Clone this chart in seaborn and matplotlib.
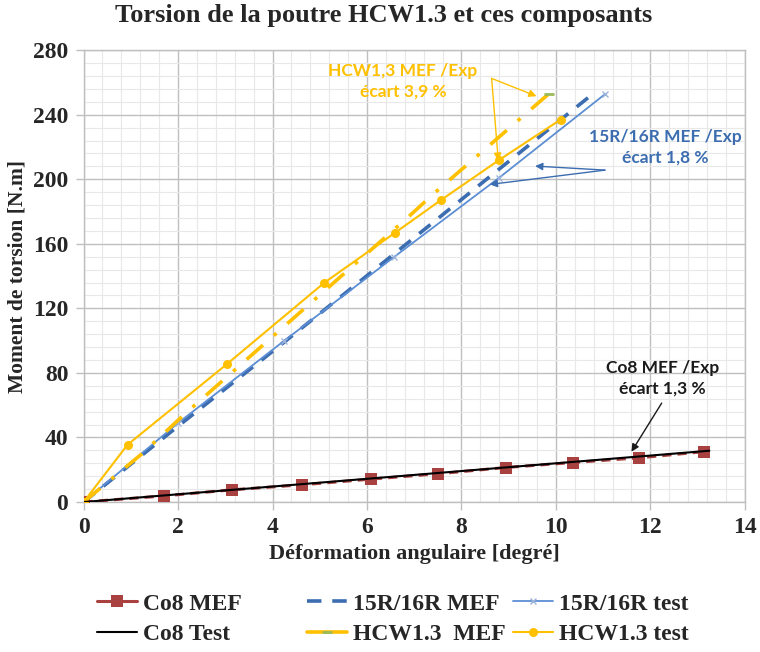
import numpy as np
import pandas as pd
import matplotlib
matplotlib.use("Agg")
import matplotlib.pyplot as plt
from matplotlib.ticker import MultipleLocator
from matplotlib.lines import Line2D
import seaborn as sns

# Co8 column: finite-element model vs. test
co8_mef_x = [0, 1.7, 3.15, 4.63, 6.08, 7.5, 8.94, 10.36, 11.76, 13.13]
co8_mef_y = [0, 3.8, 7.6, 10.7, 14.2, 17.5, 21.4, 24.5, 27.4, 31.2]
co8_test_x = [0, 13.25]
co8_test_y = [0, 31.8]

# 15R/16R components
r15_mef_x = [0, 2.0, 4.2, 6.5, 8.7, 10.7]
r15_mef_y = [0, 47, 98, 152, 204, 251]
r15_test_x = [0, 2.0, 4.25, 6.58, 8.8, 11.05]
r15_test_y = [0, 49, 100, 152, 201, 253]

# HCW1.3 beam
hcw_mef_x = [0, 1.24, 2.14, 6.85, 7.45, 9.85]
hcw_mef_y = [0, 30, 54.5, 176, 192, 253]
hcw_test_x = [0, 0.93, 3.04, 5.1, 6.6, 7.56, 8.8, 10.1]
hcw_test_y = [0, 35.5, 85.6, 136, 167, 187, 212, 237]

x_ticks = [0, 2, 4, 6, 8, 10, 12, 14]
y_ticks = [0, 40, 80, 120, 160, 200, 240, 280]

title = "Torsion de la poutre HCW1.3 et ces composants"
x_label = "Déformation angulaire [degré]"
y_label = "Moment de torsion [N.m]"

RED = "#A8413F"
BLUE_D = "#3C6DB0"
BLUE_L = "#5B8ED4"
GOLD = "#FFC000"
GREEN = "#9BBB59"

sns.set_theme(style="white")
plt.rcParams["font.family"] = ["Liberation Serif", "DejaVu Serif"]

fig = plt.figure(figsize=(7.6, 6.52), dpi=100)
ax = fig.add_axes([0.110, 0.230, 0.870, 0.693])

def frame(x, y):
    return pd.DataFrame({"x": x, "y": y})

# Co8
sns.lineplot(data=frame(co8_mef_x, co8_mef_y), x="x", y="y", ax=ax, sort=False,
             estimator=None, color=RED, lw=2.2, linestyle=(0, (3, 2)),
             marker="s", markersize=9, markeredgewidth=0, zorder=3)
sns.lineplot(data=frame(co8_test_x, co8_test_y), x="x", y="y", ax=ax, sort=False,
             estimator=None, color="black", lw=1.5, zorder=4)

# 15R/16R
sns.lineplot(data=frame(r15_mef_x, r15_mef_y), x="x", y="y", ax=ax, sort=False,
             estimator=None, color=BLUE_D, lw=2.6, linestyle=(0, (4, 3)), zorder=3)
sns.lineplot(data=frame(r15_test_x, r15_test_y), x="x", y="y", ax=ax, sort=False,
             estimator=None, color=BLUE_L, lw=1.3, marker="x", markersize=5,
             markeredgecolor="#9DB3DA", markeredgewidth=1, zorder=3)

# HCW1.3
sns.lineplot(data=frame(hcw_mef_x, hcw_mef_y), x="x", y="y", ax=ax, sort=False,
             estimator=None, color=GOLD, lw=2.6, linestyle=(0, (6, 4, 1, 4)),
             marker="_", markersize=7, markeredgecolor=GREEN, markeredgewidth=2,
             markevery=[len(hcw_mef_x) - 1], zorder=3)
sns.lineplot(data=frame(hcw_test_x, hcw_test_y), x="x", y="y", ax=ax, sort=False,
             estimator=None, color=GOLD, lw=1.5, marker="o", markersize=6.5,
             markeredgewidth=0, zorder=3)

ax.set_xlim(0, 14)
ax.set_ylim(0, 280)
ax.set_xticks(x_ticks)
ax.set_yticks(y_ticks)
ax.xaxis.set_minor_locator(MultipleLocator(0.4))
ax.yaxis.set_minor_locator(MultipleLocator(8))
ax.grid(which="major", color="#BFBFBF", lw=1.0, zorder=0)
ax.grid(which="minor", color="#E8E8E8", lw=0.8, zorder=0)
ax.set_axisbelow(True)
for s in ax.spines.values():
    s.set_color("#BFBFBF")
    s.set_linewidth(1.0)
ax.tick_params(which="major", direction="out", length=6, color="#BFBFBF",
               width=1, labelsize=17, pad=5, bottom=True, left=True)
ax.tick_params(which="minor", length=0)
for lab in ax.get_xticklabels() + ax.get_yticklabels():
    lab.set_fontweight("bold")

ax.set_xlabel(x_label, fontsize=16, fontweight="bold", labelpad=4)
ax.set_ylabel(y_label, fontsize=15.5, fontweight="bold", labelpad=4)
fig.suptitle(title, x=0.505, y=0.994, fontsize=19, fontweight="bold")

# annotations
note_font = dict(family=["Lato", "DejaVu Sans"], fontweight="bold", fontsize=12.5,
                 ha="center", va="center", linespacing=1.35)
ax.text(6.76, 260.5, "HCW1,3 MEF /Exp\nécart 3,9 %", color=GOLD, **note_font)
ax.text(12.31, 219.7, "15R/16R MEF /Exp\nécart 1,8 %", color=BLUE_D, **note_font)
ax.text(12.25, 76.8, "Co8 MEF /Exp\nécart 1,3 %", color="#1a1a1a", **note_font)

def arrow(start, end, color):
    ax.annotate("", xy=end, xytext=start,
                arrowprops=dict(arrowstyle="-|>", color=color, lw=1.0,
                                mutation_scale=11, shrinkA=0, shrinkB=0), zorder=5)

arrow((8.64, 262.5), (9.59, 251.5), GOLD)
arrow((8.64, 262.5), (8.78, 211.5), GOLD)
arrow((11.04, 205.7), (9.56, 208.2), BLUE_D)
arrow((11.04, 205.7), (8.6, 196.8), BLUE_D)
arrow((12.24, 61.3), (11.6, 31.2), "#1a1a1a")

# legend: three columns placed side by side below the axes
columns = [
    ([Line2D([], [], color=RED, lw=2.2, marker="s", markersize=9, markeredgewidth=0),
      Line2D([], [], color="black", lw=1.5)],
     ["Co8 MEF", "Co8 Test"], 97),
    ([Line2D([], [], color=BLUE_D, lw=2.6, linestyle=(0, (4, 3))),
      Line2D([], [], color=GOLD, lw=2.6, marker="_", markersize=7,
             markeredgecolor=GREEN, markeredgewidth=2)],
     ["15R/16R MEF", "HCW1.3  MEF"], 307),
    ([Line2D([], [], color=BLUE_L, lw=1.3, marker="x", markersize=5,
             markeredgecolor="#9DB3DA"),
      Line2D([], [], color=GOLD, lw=1.5, marker="o", markersize=6.5, markeredgewidth=0)],
     ["15R/16R test", "HCW1.3 test"], 513),
]
for hs, ls, x0 in columns:
    fig.legend(hs, ls, loc="upper left", bbox_to_anchor=(x0 / 760, 1 - 593 / 652),
               frameon=False, borderpad=0, borderaxespad=0,
               prop=dict(size=17, weight="bold"), handlelength=1.7,
               handletextpad=0.25, labelspacing=0.4)

fig.savefig("out.png", dpi=100)
